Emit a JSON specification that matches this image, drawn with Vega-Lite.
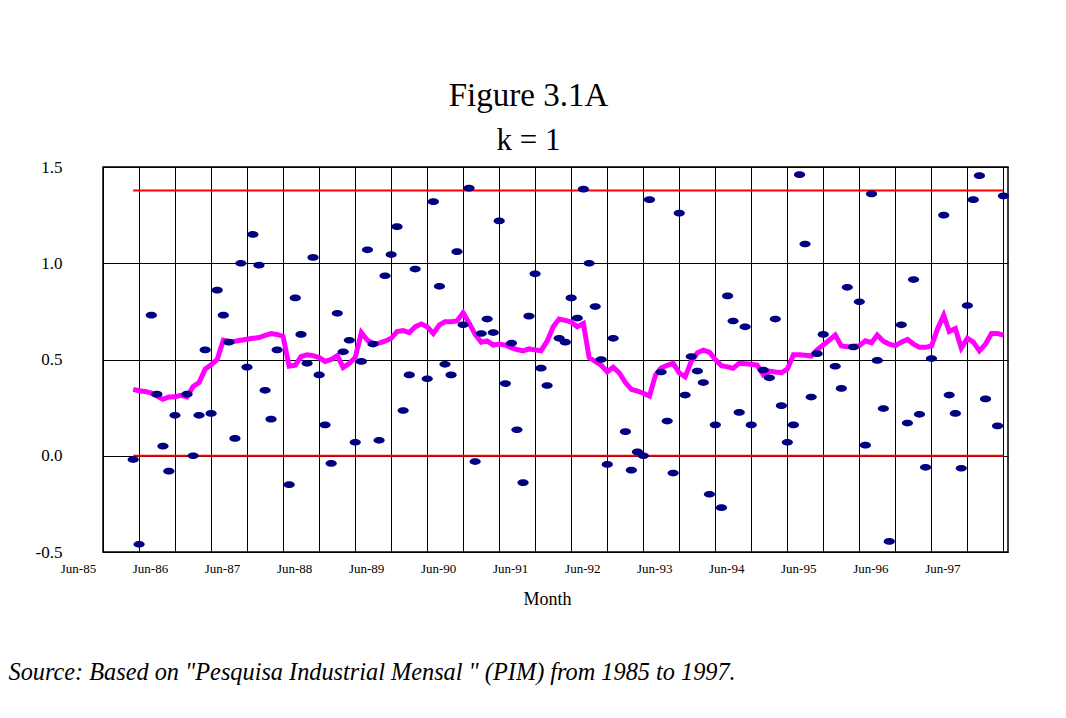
{
"$schema": "https://vega.github.io/schema/vega-lite/v6.json",
"width": 905, "height": 385,
"autosize": {"type": "none"},
"padding": {"left": 103, "top": 167, "right": 58, "bottom": 166},
"background": "white",
"config": {"view": {"stroke": "black", "strokeWidth": 1.5}, "font": "Liberation Serif"},
"title": {"text": "Figure 3.1A", "subtitle": "k = 1", "font": "Liberation Serif", "subtitleFont": "Liberation Serif", "fontSize": 33, "subtitleFontSize": 31, "fontWeight": "normal", "color": "black", "subtitleColor": "black", "anchor": "middle", "dx": -27, "offset": 2, "subtitlePadding": 13},
"datasets": {
"cl": [{"a": "1985-11", "b": "1997-12", "v": 1.378}, {"a": "1985-11", "b": "1997-12", "v": 0}],
"ma": [
{"m":"1985-11","v":0.345},{"m":"1985-12","v":0.338},
{"m":"1986-01","v":0.334},{"m":"1986-02","v":0.325},{"m":"1986-03","v":0.31},{"m":"1986-04","v":0.293},{"m":"1986-05","v":0.305},{"m":"1986-06","v":0.306},{"m":"1986-07","v":0.314},{"m":"1986-08","v":0.306},{"m":"1986-09","v":0.36},{"m":"1986-10","v":0.38},{"m":"1986-11","v":0.45},{"m":"1986-12","v":0.472},
{"m":"1987-01","v":0.50},{"m":"1987-02","v":0.60},{"m":"1987-03","v":0.594},{"m":"1987-04","v":0.595},{"m":"1987-05","v":0.60},{"m":"1987-06","v":0.605},{"m":"1987-07","v":0.61},{"m":"1987-08","v":0.614},{"m":"1987-09","v":0.625},{"m":"1987-10","v":0.635},{"m":"1987-11","v":0.63},{"m":"1987-12","v":0.62},
{"m":"1988-01","v":0.465},{"m":"1988-02","v":0.47},{"m":"1988-03","v":0.515},{"m":"1988-04","v":0.525},{"m":"1988-05","v":0.52},{"m":"1988-06","v":0.51},{"m":"1988-07","v":0.49},{"m":"1988-08","v":0.50},{"m":"1988-09","v":0.52},{"m":"1988-10","v":0.458},{"m":"1988-11","v":0.48},{"m":"1988-12","v":0.51},
{"m":"1989-01","v":0.64},{"m":"1989-02","v":0.60},{"m":"1989-03","v":0.583},{"m":"1989-04","v":0.585},{"m":"1989-05","v":0.595},{"m":"1989-06","v":0.61},{"m":"1989-07","v":0.645},{"m":"1989-08","v":0.65},{"m":"1989-09","v":0.64},{"m":"1989-10","v":0.67},{"m":"1989-11","v":0.684},{"m":"1989-12","v":0.67},
{"m":"1990-01","v":0.635},{"m":"1990-02","v":0.68},{"m":"1990-03","v":0.696},{"m":"1990-04","v":0.696},{"m":"1990-05","v":0.70},{"m":"1990-06","v":0.743},{"m":"1990-07","v":0.69},{"m":"1990-08","v":0.63},{"m":"1990-09","v":0.59},{"m":"1990-10","v":0.597},{"m":"1990-11","v":0.575},{"m":"1990-12","v":0.58},
{"m":"1991-01","v":0.575},{"m":"1991-02","v":0.56},{"m":"1991-03","v":0.552},{"m":"1991-04","v":0.545},{"m":"1991-05","v":0.555},{"m":"1991-06","v":0.55},{"m":"1991-07","v":0.545},{"m":"1991-08","v":0.595},{"m":"1991-09","v":0.67},{"m":"1991-10","v":0.71},{"m":"1991-11","v":0.703},{"m":"1991-12","v":0.695},
{"m":"1992-01","v":0.67},{"m":"1992-02","v":0.687},{"m":"1992-03","v":0.51},{"m":"1992-04","v":0.49},{"m":"1992-05","v":0.47},{"m":"1992-06","v":0.436},{"m":"1992-07","v":0.46},{"m":"1992-08","v":0.43},{"m":"1992-09","v":0.38},{"m":"1992-10","v":0.345},{"m":"1992-11","v":0.336},{"m":"1992-12","v":0.325},
{"m":"1993-01","v":0.31},{"m":"1993-02","v":0.42},{"m":"1993-03","v":0.456},{"m":"1993-04","v":0.47},{"m":"1993-05","v":0.48},{"m":"1993-06","v":0.43},{"m":"1993-07","v":0.41},{"m":"1993-08","v":0.49},{"m":"1993-09","v":0.535},{"m":"1993-10","v":0.548},{"m":"1993-11","v":0.538},{"m":"1993-12","v":0.50},
{"m":"1994-01","v":0.468},{"m":"1994-02","v":0.462},{"m":"1994-03","v":0.454},{"m":"1994-04","v":0.48},{"m":"1994-05","v":0.478},{"m":"1994-06","v":0.475},{"m":"1994-07","v":0.471},{"m":"1994-08","v":0.42},{"m":"1994-09","v":0.44},{"m":"1994-10","v":0.435},{"m":"1994-11","v":0.432},{"m":"1994-12","v":0.45},
{"m":"1995-01","v":0.525},{"m":"1995-02","v":0.525},{"m":"1995-03","v":0.522},{"m":"1995-04","v":0.518},{"m":"1995-05","v":0.55},{"m":"1995-06","v":0.575},{"m":"1995-07","v":0.60},{"m":"1995-08","v":0.627},{"m":"1995-09","v":0.57},{"m":"1995-10","v":0.566},{"m":"1995-11","v":0.568},{"m":"1995-12","v":0.572},
{"m":"1996-01","v":0.597},{"m":"1996-02","v":0.587},{"m":"1996-03","v":0.627},{"m":"1996-04","v":0.595},{"m":"1996-05","v":0.58},{"m":"1996-06","v":0.572},{"m":"1996-07","v":0.59},{"m":"1996-08","v":0.604},{"m":"1996-09","v":0.58},{"m":"1996-10","v":0.563},{"m":"1996-11","v":0.563},{"m":"1996-12","v":0.57},
{"m":"1997-01","v":0.66},{"m":"1997-02","v":0.73},{"m":"1997-03","v":0.645},{"m":"1997-04","v":0.661},{"m":"1997-05","v":0.56},{"m":"1997-06","v":0.61},{"m":"1997-07","v":0.59},{"m":"1997-08","v":0.545},{"m":"1997-09","v":0.58},{"m":"1997-10","v":0.635},{"m":"1997-11","v":0.635},{"m":"1997-12","v":0.627}
],
"pts": [
{"m":"1985-11","v":-0.02},{"m":"1985-12","v":-0.46},
{"m":"1986-02","v":0.73},{"m":"1986-03","v":0.32},{"m":"1986-04","v":0.05},{"m":"1986-05","v":-0.08},{"m":"1986-06","v":0.21},{"m":"1986-08","v":0.32},{"m":"1986-09","v":0.0},{"m":"1986-10","v":0.21},{"m":"1986-11","v":0.55},{"m":"1986-12","v":0.22},
{"m":"1987-01","v":0.86},{"m":"1987-02","v":0.73},{"m":"1987-03","v":0.59},{"m":"1987-04","v":0.09},{"m":"1987-05","v":1.0},{"m":"1987-06","v":0.46},{"m":"1987-07","v":1.15},{"m":"1987-08","v":0.99},{"m":"1987-09","v":0.34},{"m":"1987-10","v":0.19},{"m":"1987-11","v":0.55},
{"m":"1988-01","v":-0.15},{"m":"1988-02","v":0.82},{"m":"1988-03","v":0.63},{"m":"1988-04","v":0.48},{"m":"1988-05","v":1.03},{"m":"1988-06","v":0.42},{"m":"1988-07","v":0.16},{"m":"1988-08","v":-0.04},{"m":"1988-09","v":0.74},{"m":"1988-10","v":0.54},{"m":"1988-11","v":0.6},{"m":"1988-12","v":0.07},
{"m":"1989-01","v":0.49},{"m":"1989-02","v":1.07},{"m":"1989-03","v":0.58},{"m":"1989-04","v":0.08},{"m":"1989-05","v":0.935},{"m":"1989-06","v":1.045},{"m":"1989-07","v":1.19},{"m":"1989-08","v":0.235},{"m":"1989-09","v":0.42},{"m":"1989-10","v":0.97},{"m":"1989-12","v":0.4},
{"m":"1990-01","v":1.32},{"m":"1990-02","v":0.88},{"m":"1990-03","v":0.475},{"m":"1990-04","v":0.42},{"m":"1990-05","v":1.06},{"m":"1990-06","v":0.68},{"m":"1990-07","v":1.39},{"m":"1990-08","v":-0.03},{"m":"1990-09","v":0.635},{"m":"1990-10","v":0.71},{"m":"1990-11","v":0.64},{"m":"1990-12","v":1.22},
{"m":"1991-01","v":0.375},{"m":"1991-02","v":0.585},{"m":"1991-03","v":0.135},{"m":"1991-04","v":-0.14},{"m":"1991-05","v":0.725},{"m":"1991-06","v":0.945},{"m":"1991-07","v":0.455},{"m":"1991-08","v":0.365},{"m":"1991-10","v":0.61},{"m":"1991-11","v":0.59},{"m":"1991-12","v":0.82},
{"m":"1992-01","v":0.715},{"m":"1992-02","v":1.385},{"m":"1992-03","v":1.0},{"m":"1992-04","v":0.775},{"m":"1992-05","v":0.5},{"m":"1992-06","v":-0.045},{"m":"1992-07","v":0.61},{"m":"1992-09","v":0.125},{"m":"1992-10","v":-0.075},{"m":"1992-11","v":0.02},{"m":"1992-12","v":0.0},
{"m":"1993-01","v":1.33},{"m":"1993-03","v":0.435},{"m":"1993-04","v":0.18},{"m":"1993-05","v":-0.09},{"m":"1993-06","v":1.26},{"m":"1993-07","v":0.315},{"m":"1993-08","v":0.515},{"m":"1993-09","v":0.44},{"m":"1993-10","v":0.38},{"m":"1993-11","v":-0.2},{"m":"1993-12","v":0.16},
{"m":"1994-01","v":-0.27},{"m":"1994-02","v":0.83},{"m":"1994-03","v":0.7},{"m":"1994-04","v":0.225},{"m":"1994-05","v":0.67},{"m":"1994-06","v":0.16},{"m":"1994-08","v":0.445},{"m":"1994-09","v":0.405},{"m":"1994-10","v":0.71},{"m":"1994-11","v":0.26},{"m":"1994-12","v":0.07},
{"m":"1995-01","v":0.16},{"m":"1995-02","v":1.46},{"m":"1995-03","v":1.1},{"m":"1995-04","v":0.305},{"m":"1995-05","v":0.53},{"m":"1995-06","v":0.63},{"m":"1995-08","v":0.465},{"m":"1995-09","v":0.35},{"m":"1995-10","v":0.875},{"m":"1995-11","v":0.565},{"m":"1995-12","v":0.8},
{"m":"1996-01","v":0.055},{"m":"1996-02","v":1.36},{"m":"1996-03","v":0.495},{"m":"1996-04","v":0.245},{"m":"1996-05","v":-0.445},{"m":"1996-07","v":0.68},{"m":"1996-08","v":0.17},{"m":"1996-09","v":0.915},{"m":"1996-10","v":0.215},{"m":"1996-11","v":-0.06},{"m":"1996-12","v":0.505},
{"m":"1997-02","v":1.25},{"m":"1997-03","v":0.315},{"m":"1997-04","v":0.22},{"m":"1997-05","v":-0.065},{"m":"1997-06","v":0.78},{"m":"1997-07","v":1.33},{"m":"1997-08","v":1.455},{"m":"1997-09","v":0.295},{"m":"1997-11","v":0.155},{"m":"1997-12","v":1.35}
]
},
"layer": [
{"data": {"name": "ma"},
 "mark": {"type": "line", "color": "#FF00FF", "strokeWidth": 5, "strokeJoin": "miter"},
 "encoding": {
  "x": {"field": "m", "type": "temporal",
   "scale": {"type": "utc", "domain": [{"year": 1985, "month": 6, "date": 1, "utc": true}, {"year": 1997, "month": 12, "date": 24, "utc": true}]},
   "axis": {"values": [
     {"year":1985,"month":6,"date":1,"utc":true},{"year":1985,"month":12,"date":1,"utc":true},
     {"year":1986,"month":6,"date":1,"utc":true},{"year":1986,"month":12,"date":1,"utc":true},
     {"year":1987,"month":6,"date":1,"utc":true},{"year":1987,"month":12,"date":1,"utc":true},
     {"year":1988,"month":6,"date":1,"utc":true},{"year":1988,"month":12,"date":1,"utc":true},
     {"year":1989,"month":6,"date":1,"utc":true},{"year":1989,"month":12,"date":1,"utc":true},
     {"year":1990,"month":6,"date":1,"utc":true},{"year":1990,"month":12,"date":1,"utc":true},
     {"year":1991,"month":6,"date":1,"utc":true},{"year":1991,"month":12,"date":1,"utc":true},
     {"year":1992,"month":6,"date":1,"utc":true},{"year":1992,"month":12,"date":1,"utc":true},
     {"year":1993,"month":6,"date":1,"utc":true},{"year":1993,"month":12,"date":1,"utc":true},
     {"year":1994,"month":6,"date":1,"utc":true},{"year":1994,"month":12,"date":1,"utc":true},
     {"year":1995,"month":6,"date":1,"utc":true},{"year":1995,"month":12,"date":1,"utc":true},
     {"year":1996,"month":6,"date":1,"utc":true},{"year":1996,"month":12,"date":1,"utc":true},
     {"year":1997,"month":6,"date":1,"utc":true},{"year":1997,"month":12,"date":1,"utc":true}],
    "tickCount": 100,
    "labelExpr": "utcmonth(datum.value) == 5 ? utcFormat(datum.value, '%b-%y') : ''",
    "grid": true, "gridColor": "black", "gridWidth": 1, "gridOpacity": 1,
    "ticks": false, "domain": false, "labelFlush": false, "labelOverlap": false,
    "labelFont": "Liberation Serif", "labelFontSize": 13, "labelColor": "black", "labelOffset": -25, "labelPadding": 10,
    "title": "Month", "titleFont": "Liberation Serif", "titleFontSize": 18, "titleFontWeight": "normal", "titleColor": "black",
    "titleX": 444, "titleY": 52, "titleBaseline": "alphabetic", "titleAlign": "center"}},
  "y": {"field": "v", "type": "quantitative",
   "scale": {"domain": [-0.5, 1.5], "nice": false, "zero": false},
   "axis": {"values": [-0.5, 0, 0.5, 1, 1.5],
    "labelExpr": "datum.value < 0 ? '-' + format(-datum.value, '.1f') : format(datum.value, '.1f')",
    "grid": true, "gridColor": "black", "gridWidth": 1, "gridOpacity": 1,
    "ticks": false, "domain": false,
    "labelFont": "Liberation Serif", "labelFontSize": 17, "labelColor": "black", "labelPadding": 41,
    "title": "Source: Based on \"Pesquisa Industrial Mensal \" (PIM) from 1985 to 1997.",
    "titleFont": "Liberation Serif", "titleFontSize": 24.3, "titleFontStyle": "italic", "titleFontWeight": "normal", "titleColor": "black",
    "titleAngle": 0, "titleAlign": "left", "titleBaseline": "alphabetic", "titleX": -95, "titleY": 512}}
 }},
{"data": {"name": "cl"},
 "mark": {"type": "rule", "color": "#FF0000", "strokeWidth": 2},
 "encoding": {"x": {"field": "a", "type": "temporal"}, "x2": {"field": "b"}, "y": {"field": "v", "type": "quantitative"}}},
{"data": {"name": "pts"},
 "mark": {"type": "point", "shape": "M -1 0 A 1 0.6 0 1 0 1 0 A 1 0.6 0 1 0 -1 0 Z", "filled": true, "color": "#000080", "size": 125, "opacity": 1},
 "encoding": {"x": {"field": "m", "type": "temporal"}, "y": {"field": "v", "type": "quantitative"}}}
]
}
